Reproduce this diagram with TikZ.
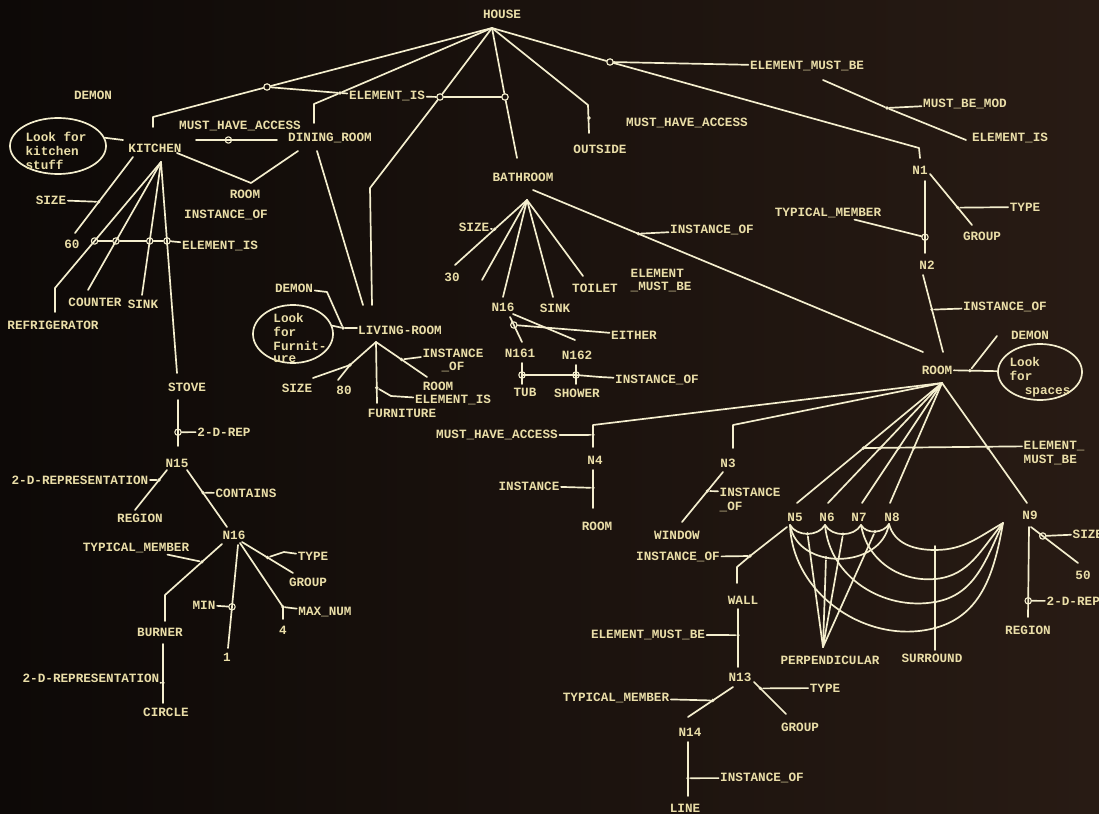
\documentclass[tikz,border=0pt]{standalone}
\usepackage{fontspec}
\newfontfamily\crtfamily{Liberation Mono}
\newcommand{\screenfont}{\fontsize{9}{10}\crtfamily\bfseries}
\usetikzlibrary{shapes.geometric}
\definecolor{bgl}{RGB}{13,9,7}
\definecolor{bgr}{RGB}{40,27,20}
\definecolor{ln}{RGB}{244,238,206}
\definecolor{txt}{RGB}{234,222,168}

\begin{document}
\begin{tikzpicture}[x=0.025cm,y=-0.025cm]
   \tikzstyle{every node}=[text=txt, font=\screenfont, inner sep=1pt]
   \tikzstyle{wire}=[draw=ln, line width=1.2pt, line join=round, line cap=round]
   \tikzstyle{ring}=[circle, draw=ln, line width=0.8pt, inner sep=0pt, minimum size=1.6mm]
   \tikzstyle{pt}=[circle, fill=ln, inner sep=0pt, minimum size=0.9mm]
   \tikzstyle{demon}=[ellipse, draw=ln, line width=1.2pt, inner sep=0pt]

   \useasboundingbox (0,0) rectangle (1099,814);
   \shade[left color=bgl, right color=bgr] (0,0) rectangle (1099,814);

\node (house) at (502,14) {HOUSE};
\node (demonk) at (93,95) {DEMON};
\node[demon, minimum width=2.4cm, minimum height=1.4cm] (lookk) at (58,146) {};
\node[align=left] (lookktx) at (56,151) {Look for\\kitchen\\stuff};
\node (kitchen) at (155,148) {KITCHEN};
\node (mha1) at (240,126) {MUST\_HAVE\_ACCESS};
\node (dining) at (330,138) {DINING\_ROOM};
\node (room1) at (245,194) {ROOM};
\node (inst1) at (226,215) {INSTANCE\_OF};
\node (elis0) at (387,96) {ELEMENT\_IS};
\node (bathroom) at (523,177) {BATHROOM};
\node (outside) at (600,149) {OUTSIDE};
\node (mha2) at (687,123) {MUST\_HAVE\_ACCESS};
\node (emb1) at (807,66) {ELEMENT\_MUST\_BE};
\node (mbm) at (965,104) {MUST\_BE\_MOD};
\node (elis1) at (1010,138) {ELEMENT\_IS};

\coordinate (hh) at (492,28);
\coordinate (kb) at (153,117); \coordinate (kt) at (153,127);
\coordinate (db) at (314,104); \coordinate (dt) at (314,123);
\coordinate (lb) at (370,188); \coordinate (lt) at (372,305);
\coordinate (bt) at (517,158);
\coordinate (ob) at (588,105); \coordinate (ot) at (589,133);
\coordinate (nb) at (919,148); \coordinate (nt) at (920,158);
\coordinate (mb1) at (823,80); \coordinate (mb2) at (966,140);
\node[ring] (jk) at (267,87) {};
\node[pt] (jd) at (340,93) {};
\node[ring] (jl) at (440,97) {};
\node[ring] (jb) at (505,97) {};
\node[pt] (jo) at (589,118) {};
\node[ring] (je) at (610,62) {};
\node[pt] (jm) at (887,108) {};

\draw[wire] (hh) -- (jk) -- (kb) -- (kt);
\draw[wire] (hh) -- (jd) -- (db) -- (dt);
\draw[wire] (hh) -- (jl) -- (lb) -- (lt);
\draw[wire] (hh) -- (jb) -- (bt);
\draw[wire] (hh) -- (ob) -- (ot);
\draw[wire] (hh) -- (je) -- (nb) -- (nt);
\draw[wire] (jk) -- (jd) -- (elis0) -- (jl) -- (jb);
\draw[wire] (je) -- (emb1);
\draw[wire] (mb1) -- (jm) -- (mb2);
\draw[wire] (jm) -- (mbm);

\node (size1) at (51,200) {SIZE};
\node (sixty) at (72,244) {60};
\node (elis2) at (220,246) {ELEMENT\_IS};
\node (counter) at (95,302) {COUNTER};
\node (sink1) at (143,304) {SINK};
\node (refrig) at (53,325) {REFRIGERATOR};
\node (stove) at (187,387) {STOVE};

\coordinate (ka) at (123,140);
\coordinate (ma1) at (196,140); \coordinate (ma2) at (277,140);
\coordinate (kv1) at (177,153); \coordinate (kv) at (251,183); \coordinate (kv2) at (298,151);
\coordinate (ks1) at (133,157); \coordinate (ks2) at (75,233);
\coordinate (kh) at (161,162);
\coordinate (rf1) at (55,288); \coordinate (rf2) at (55,312);
\coordinate (ct) at (88,290); \coordinate (sk) at (142,295); \coordinate (st) at (177,373);

\draw[wire] (lookk.10) -- (ka);
\draw[wire] (ma1) -- node[ring,pos=0.4] (jma) {} (ma2);
\draw[wire] (kv1) -- (kv) -- (kv2);
\draw[wire] (ks1) -- node[pt,pos=0.59] (jks) {} (ks2);
\draw[wire] (size1) -- (jks);
\draw[wire] (kh) -- node[ring,pos=0.627] (je1) {} (rf1) -- (rf2);
\draw[wire] (kh) -- node[ring,pos=0.617] (je2) {} (ct);
\draw[wire] (kh) -- node[ring,pos=0.594] (je3) {} (sk);
\draw[wire] (kh) -- node[ring,pos=0.374] (je4) {} (st);
\draw[wire] (je1) -- (je2) -- (je3) -- (je4) -- (elis2);

\node (tdrep1) at (224,432) {2-D-REP};
\node (n15) at (177,463) {N15};
\node (tdr2) at (80,480) {2-D-REPRESENTATION};
\node (region1) at (140,518) {REGION};
\node (contains) at (246,493) {CONTAINS};
\node (n16a) at (234,535) {N16};
\node (tm2) at (136,548) {TYPICAL\_MEMBER};
\node (type2) at (313,556) {TYPE};
\node (group2) at (308,582) {GROUP};
\node (min) at (204,605) {MIN};
\node (maxnum) at (325,612) {MAX\_NUM};
\node (four) at (283,630) {4};
\node (one) at (227,657) {1};
\node (burner) at (160,632) {BURNER};
\node (tdr3) at (91,678) {2-D-REPRESENTATION};
\node (circle) at (166,712) {CIRCLE};

\coordinate (sv1) at (178,400); \coordinate (sv2) at (178,446);
\coordinate (r1a) at (167,470); \coordinate (r1b) at (135,510);
\coordinate (c1a) at (187,470); \coordinate (c1b) at (227,527);
\coordinate (bu1) at (222,544); \coordinate (bu2) at (165,595); \coordinate (bu3) at (165,621);
\coordinate (on1) at (238,545); \coordinate (on2) at (228,648);
\coordinate (fo1) at (240,543); \coordinate (fo3) at (283,619);
\coordinate (gr1) at (242,542); \coordinate (gr2) at (293,573); \coordinate (ty2a) at (284,552);
\coordinate (ci1) at (163,644); \coordinate (ci2) at (163,703);
\node[pt] (jmax) at (283,607) {};

\draw[wire] (sv1) -- node[ring,pos=0.7] (jsv) {} (sv2);
\draw[wire] (jsv) -- (tdrep1);
\draw[wire] (r1a) -- node[pt,pos=0.25] (jr) {} (r1b);
\draw[wire] (tdr2) -- (jr);
\draw[wire] (c1a) -- node[pt,pos=0.4] (jc) {} (c1b);
\draw[wire] (jc) -- (contains);
\draw[wire] (bu1) -- node[pt,pos=0.35] (jtm) {} (bu2) -- (bu3);
\draw[wire] (tm2) -- (jtm);
\draw[wire] (on1) -- node[ring,pos=0.6] (jmin) {} (on2);
\draw[wire] (min) -- (jmin);
\draw[wire] (fo1) -- (jmax.center) -- (fo3);
\draw[wire] (jmax) -- (maxnum);
\draw[wire] (gr1) -- node[pt,pos=0.5] (jty) {} (gr2);
\draw[wire] (jty) -- (ty2a) -- (type2);
\draw[wire] (ci1) -- node[pt,pos=0.66] (jci) {} (ci2);
\draw[wire] (tdr3) -- (jci);

\node (demonl) at (294,288) {DEMON};
\node[demon, minimum width=2.0cm, minimum height=1.45cm] (lookl) at (293,334) {};
\node[align=left] (lookltx) at (300,338) {Look\\for\\Furnit-\\[-2pt]ure};
\node (living) at (400,330) {LIVING-ROOM};
\node (inst4a) at (453,353) {INSTANCE};
\node (inst4b) at (453,367) {\_OF};
\node (room2) at (438,386) {ROOM};
\node (elis3) at (453,400) {ELEMENT\_IS};
\node (furniture) at (402,413) {FURNITURE};
\node (size2) at (297,388) {SIZE};
\node (eighty) at (344,390) {80};

\coordinate (dl1) at (317,151); \coordinate (dl2) at (363,305);
\coordinate (dm1) at (327,292); \coordinate (la) at (357,328);
\coordinate (lh) at (376,342);
\coordinate (e80) at (338,380); \coordinate (sz2) at (313,378);
\coordinate (fu) at (377,403); \coordinate (ei1) at (391,396);
\coordinate (ro2) at (427,377);
\node[pt] (jdl) at (343,328) {};
\node[pt] (jls) at (350,365) {};

\draw[wire] (dl1) -- (dl2);
\draw[wire] (lookl.12) -- (jdl) -- (la);
\draw[wire] (demonl) -- (dm1) -- (jdl);
\draw[wire] (lh) -- (jls.center) -- (e80);
\draw[wire] (jls.center) -- (sz2);
\draw[wire] (lh) -- node[pt,pos=0.75] (jfu) {} (fu);
\draw[wire] (jfu) -- (ei1) -- (elis3);
\draw[wire] (lh) -- node[pt,pos=0.5] (jro) {} (ro2);
\draw[wire] (jro) -- (inst4a);

\node (size3) at (474,227) {SIZE};
\node (thirty) at (452,277) {30};
\node (n16b) at (503,307) {N16};
\node (sink2) at (555,308) {SINK};
\node (toilet) at (595,288) {TOILET};
\node[anchor=west] (emb2a) at (629,273) {ELEMENT};
\node[anchor=west] (emb2b) at (629,287) {\_MUST\_BE};
\node (inst3) at (712,230) {INSTANCE\_OF};
\node (either) at (634,335) {EITHER};
\node (n161) at (520,353) {N161};
\node (n162) at (577,355) {N162};
\node (inst5) at (657,380) {INSTANCE\_OF};
\node (tub) at (525,392) {TUB};
\node (shower) at (577,393) {SHOWER};

\coordinate (bh) at (527,200);
\coordinate (t30) at (455,265); \coordinate (u30) at (482,280);
\coordinate (n16t) at (503,297); \coordinate (skt) at (553,297); \coordinate (tot) at (583,276);
\coordinate (br1) at (533,190); \coordinate (br2) at (923,352);
\coordinate (e1a) at (510,317); \coordinate (e1b) at (522,342);
\coordinate (e2a) at (513,314); \coordinate (e2b) at (575,340);
\coordinate (ei2) at (600,332);
\coordinate (tu1) at (522,363); \coordinate (tu2) at (522,384);
\coordinate (sh1) at (576,365); \coordinate (sh2) at (576,384);
\coordinate (is5) at (600,377);
\node[ring] (jtu) at (522,375) {};
\node[ring] (jsh) at (576,375) {};

\draw[wire] (bh) -- node[pt,pos=0.45] (jbs) {} (t30);
\draw[wire] (size3) -- (jbs);
\draw[wire] (bh) -- (u30);
\draw[wire] (bh) -- (n16t);
\draw[wire] (bh) -- (skt);
\draw[wire] (bh) -- (tot);
\draw[wire] (br1) -- node[pt,pos=0.27] (jbr) {} (br2);
\draw[wire] (jbr) -- (inst3);
\draw[wire] (e1a) -- node[ring,pos=0.32] (jei) {} (e1b);
\draw[wire] (e2a) -- (e2b);
\draw[wire] (jei) -- (ei2) -- (either);
\draw[wire] (tu1) -- (tu2);
\draw[wire] (sh1) -- (sh2);
\draw[wire] (jtu.center) -- (jsh.center) -- (is5) -- (inst5);

\node (n1) at (920,170) {N1};
\node (type1) at (1025,207) {TYPE};
\node (group1) at (982,236) {GROUP};
\node (tm1) at (828,213) {TYPICAL\_MEMBER};
\node (n2) at (927,265) {N2};
\node (inst2) at (1005,307) {INSTANCE\_OF};
\node (room) at (937,370) {ROOM};
\node (demonr) at (1030,335) {DEMON};
\node[demon, minimum width=2.1cm, minimum height=1.4cm] (lookr) at (1040,372) {};
\node[align=left] (lookrtx) at (1040,377) {Look\\for\\\hspace*{1.2em}spaces};

\coordinate (n1a) at (925,181); \coordinate (n1b) at (925,253);
\coordinate (g1a) at (930,174); \coordinate (g1b) at (972,225);
\coordinate (n2a) at (923,275); \coordinate (n2b) at (943,352);
\coordinate (dr1) at (997,336);

\draw[wire] (n1a) -- node[ring,pos=0.78] (jtm1) {} (n1b);
\draw[wire] (tm1) -- (jtm1);
\draw[wire] (g1a) -- node[pt,pos=0.66] (jty1) {} (g1b);
\draw[wire] (jty1) -- (type1);
\draw[wire] (n2a) -- node[pt,pos=0.45] (jin2) {} (n2b);
\draw[wire] (jin2) -- (inst2);
\draw[wire] (room) -- node[pt,pos=0.37] (jrd) {} (lookr);
\draw[wire] (jrd) -- (dr1);

\node (mha3) at (497,435) {MUST\_HAVE\_ACCESS};
\node (n4) at (595,460) {N4};
\node (inst6) at (529,486) {INSTANCE};
\node (room3) at (597,526) {ROOM};
\node (n3) at (728,463) {N3};
\node[anchor=west] (inst7a) at (718,492) {INSTANCE};
\node[anchor=west] (inst7b) at (718,507) {\_OF};
\node (window) at (677,535) {WINDOW};
\node (inst8) at (678,557) {INSTANCE\_OF};
\node (wall) at (743,600) {WALL};
\node (emb3) at (648,635) {ELEMENT\_MUST\_BE};
\node (n13) at (740,677) {N13};
\node (type3) at (825,688) {TYPE};
\node (group3) at (800,727) {GROUP};
\node (tm3) at (616,698) {TYPICAL\_MEMBER};
\node (n14) at (690,732) {N14};
\node (inst9) at (762,778) {INSTANCE\_OF};
\node (line) at (685,808) {LINE};

\coordinate (rh) at (942,383);
\coordinate (n4a) at (593,425); \coordinate (n4b) at (593,447);
\coordinate (n4c) at (593,470); \coordinate (n4d) at (593,508);
\coordinate (n3a) at (733,425); \coordinate (n3b) at (733,448);
\coordinate (wi1) at (723,472); \coordinate (wi2) at (682,522);
\coordinate (wa1) at (787,527); \coordinate (wa3) at (737,567); \coordinate (wa4) at (737,583);
\coordinate (wn1) at (738,609); \coordinate (wn2) at (738,667);
\coordinate (l1) at (733,687); \coordinate (l2) at (688,717);
\coordinate (g3a) at (754,682); \coordinate (g3b) at (786,714);
\coordinate (li1) at (688,742); \coordinate (li2) at (688,796);
\node[pt] (jwa) at (750,556) {};

\draw[wire] (rh) -- (n4a) -- node[pt,pos=0.45] (jn4) {} (n4b);
\draw[wire] (mha3) -- (jn4);
\draw[wire] (n4c) -- node[pt,pos=0.47] (jn4b) {} (n4d);
\draw[wire] (inst6) -- (jn4b);
\draw[wire] (rh) -- (n3a) -- (n3b);
\draw[wire] (wi1) -- node[pt,pos=0.38] (jwi) {} (wi2);
\draw[wire] (jwi) -- (inst7a);
\draw[wire] (wa1) -- (jwa.center) -- (wa3) -- (wa4);
\draw[wire] (inst8) -- (jwa);
\draw[wire] (wn1) -- node[pt,pos=0.45] (jwn) {} (wn2);
\draw[wire] (emb3) -- (jwn);
\draw[wire] (l1) -- node[pt,pos=0.45] (jl13) {} (l2);
\draw[wire] (tm3) -- (jl13);
\draw[wire] (g3a) -- node[pt,pos=0.2] (jg3) {} (g3b);
\draw[wire] (jg3) -- (type3);
\draw[wire] (li1) -- node[pt,pos=0.67] (jli) {} (li2);
\draw[wire] (jli) -- (inst9);

\node (n5) at (795,517) {N5};
\node (n6) at (827,517) {N6};
\node (n7) at (859,517) {N7};
\node (n8) at (892,517) {N8};
\node (n9) at (1030,515) {N9};
\node[anchor=west] (emb4a) at (1022,446) {ELEMENT\_};
\node[anchor=west] (emb4b) at (1022,460) {MUST\_BE};
\node[anchor=west] (sizer) at (1071,534) {SIZE};
\node (fifty) at (1083,575) {50};
\node[anchor=west] (tdrep2) at (1045,601) {2-D-REP};
\node (region2) at (1028,630) {REGION};
\node (perp) at (830,660) {PERPENDICULAR};
\node (surround) at (932,658) {SURROUND};

\coordinate (t5) at (797,503); \coordinate (t6) at (828,503); \coordinate (t7) at (862,503);
\coordinate (t8) at (890,503); \coordinate (t9) at (1027,503);
\coordinate (p5) at (790,525); \coordinate (p6) at (825,525); \coordinate (p7) at (861,525);
\coordinate (p8) at (889,524); \coordinate (sp) at (1003,523);
\coordinate (su1) at (935,546); \coordinate (su2) at (935,650);
\coordinate (pp) at (823,647);
\coordinate (r9a) at (1029,527); \coordinate (r9b) at (1028,617);
\coordinate (f9a) at (1031,527); \coordinate (f9b) at (1078,563);
\node[pt] (s8) at (935,550) {};
\node[pt] (s7) at (935,579) {};
\node[pt] (s6) at (935,602) {};
\node[pt] (s5) at (935,628) {};

\draw[wire] (rh) -- node[pt,pos=0.542] (m5) {} (t5);
\draw[wire] (rh) -- node[pt,pos=0.542] (m6) {} (t6);
\draw[wire] (rh) -- node[pt,pos=0.542] (m7) {} (t7);
\draw[wire] (rh) -- node[pt,pos=0.542] (m8) {} (t8);
\draw[wire] (rh) -- node[pt,pos=0.542] (m9) {} (t9);
\draw[wire] (m5.center) -- (emb4a);

\draw[wire] (p8) to[out=-75,in=180] (s8.center) to[out=0,in=-150] (sp);
\draw[wire] (p7) to[out=-80,in=185] (s7.center) to[out=5,in=-130] (sp);
\draw[wire] (p6) to[out=-85,in=190] (s6.center) to[out=10,in=-115] (sp);
\draw[wire] (p5) to[out=-88,in=195] (s5.center) to[out=15,in=-100] (sp);
\draw[wire] (su1) -- (su2);

\draw[wire] (p5) to[out=-60,in=-120] node[pt,pos=0.5] (q56) {} (p6);
\draw[wire] (p6) to[out=-60,in=-120] node[pt,pos=0.5] (q67) {} (p7);
\draw[wire] (p7) to[out=-60,in=-120] node[pt,pos=0.5] (q78) {} (p8);
\draw[wire] (p5) to[out=-80,in=-100,looseness=1.2] node[pt,pos=0.4] (q58) {} (p8);
\draw[wire] (pp) -- (q56);
\draw[wire] (pp) -- (q67);
\draw[wire] (pp) -- (q78);
\draw[wire] (pp) -- (q58);

\draw[wire] (r9a) -- node[ring,pos=0.82] (j9r) {} (r9b);
\draw[wire] (j9r) -- (tdrep2);
\draw[wire] (f9a) -- node[ring,pos=0.25] (j9s) {} (f9b);
\draw[wire] (j9s) -- (sizer);

\end{tikzpicture}
\end{document}
